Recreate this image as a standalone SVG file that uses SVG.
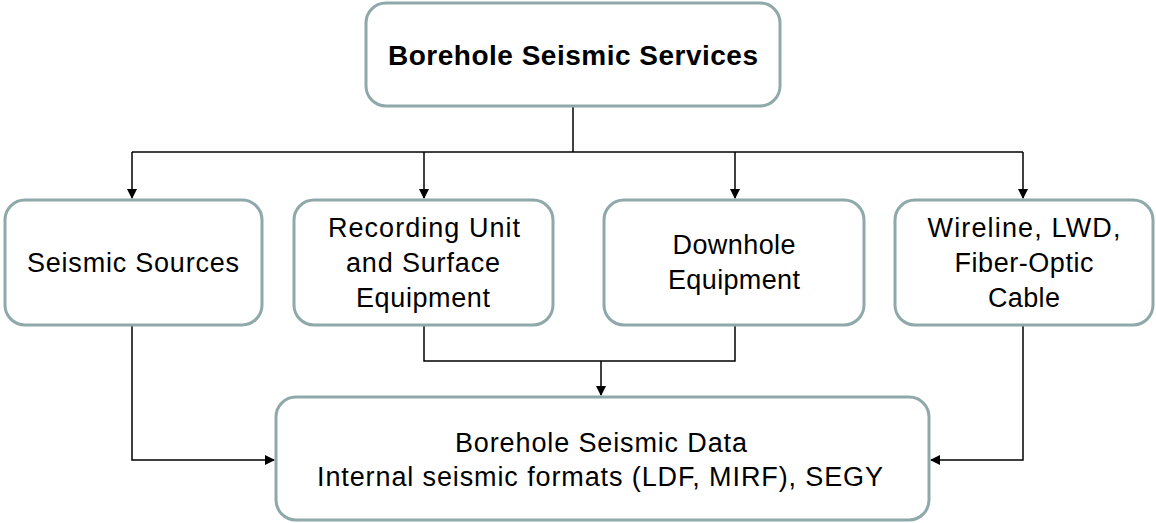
<svg xmlns="http://www.w3.org/2000/svg" width="1156" height="523" viewBox="0 0 1156 523">
<style>
.box{fill:#fff;stroke:#8fa8aa;stroke-width:3}
.t{font-family:"Liberation Sans",Arial,sans-serif;font-size:27px;fill:#000;text-anchor:middle}
.b{font-weight:bold;font-size:28px}
.c{fill:none;stroke:#000;stroke-width:1.5}
</style>
<defs>
<marker id="a" markerWidth="10" markerHeight="10" refX="9" refY="5" orient="auto" markerUnits="userSpaceOnUse">
<path d="M0,0 L10,5 L0,10 z" fill="#000"/>
</marker>
</defs>
<g id="connectors">
<path class="c" d="M573,106 V152"/>
<path class="c" d="M132,152 H1023"/>
<path class="c" d="M132,152 V198" marker-end="url(#a)"/>
<path class="c" d="M424,152 V198" marker-end="url(#a)"/>
<path class="c" d="M735,152 V198" marker-end="url(#a)"/>
<path class="c" d="M1023,152 V198" marker-end="url(#a)"/>
<path class="c" d="M132,325 V460 H274" marker-end="url(#a)"/>
<path class="c" d="M1023,325 V460 H931" marker-end="url(#a)"/>
<path class="c" d="M424,325 V361 H735 V325"/>
<path class="c" d="M601,361 V395" marker-end="url(#a)"/>
</g>
<g id="top"><rect class="box" x="366" y="3" width="414" height="103" rx="20"/><text class="t b" x="573" y="65" textLength="370" lengthAdjust="spacing">Borehole Seismic Services</text></g>
<g id="sources"><rect class="box" x="5" y="200" width="257" height="125" rx="20"/><text class="t" x="133" y="272" textLength="212" lengthAdjust="spacing">Seismic Sources</text></g>
<g id="recording"><rect class="box" x="294" y="200" width="259" height="125" rx="20"/><text class="t" x="424" y="237" textLength="192" lengthAdjust="spacing">Recording Unit</text><text class="t" x="423" y="272" textLength="154" lengthAdjust="spacing">and Surface</text><text class="t" x="423" y="307" textLength="134" lengthAdjust="spacing">Equipment</text></g>
<g id="downhole"><rect class="box" x="604" y="200" width="260" height="125" rx="20"/><text class="t" x="734" y="254" textLength="123" lengthAdjust="spacing">Downhole</text><text class="t" x="734" y="289" textLength="132" lengthAdjust="spacing">Equipment</text></g>
<g id="wireline"><rect class="box" x="895" y="200" width="258" height="125" rx="20"/><text class="t" x="1024" y="237" textLength="193" lengthAdjust="spacing">Wireline, LWD,</text><text class="t" x="1024" y="272" textLength="139" lengthAdjust="spacing">Fiber-Optic</text><text class="t" x="1024" y="307" textLength="72" lengthAdjust="spacing">Cable</text></g>
<g id="data"><rect class="box" x="276" y="397" width="653" height="123" rx="20"/><text class="t" x="601" y="452" textLength="292" lengthAdjust="spacing">Borehole Seismic Data</text><text class="t" x="600" y="486" textLength="566" lengthAdjust="spacing">Internal seismic formats (LDF, MIRF), SEGY</text></g>
</svg>
